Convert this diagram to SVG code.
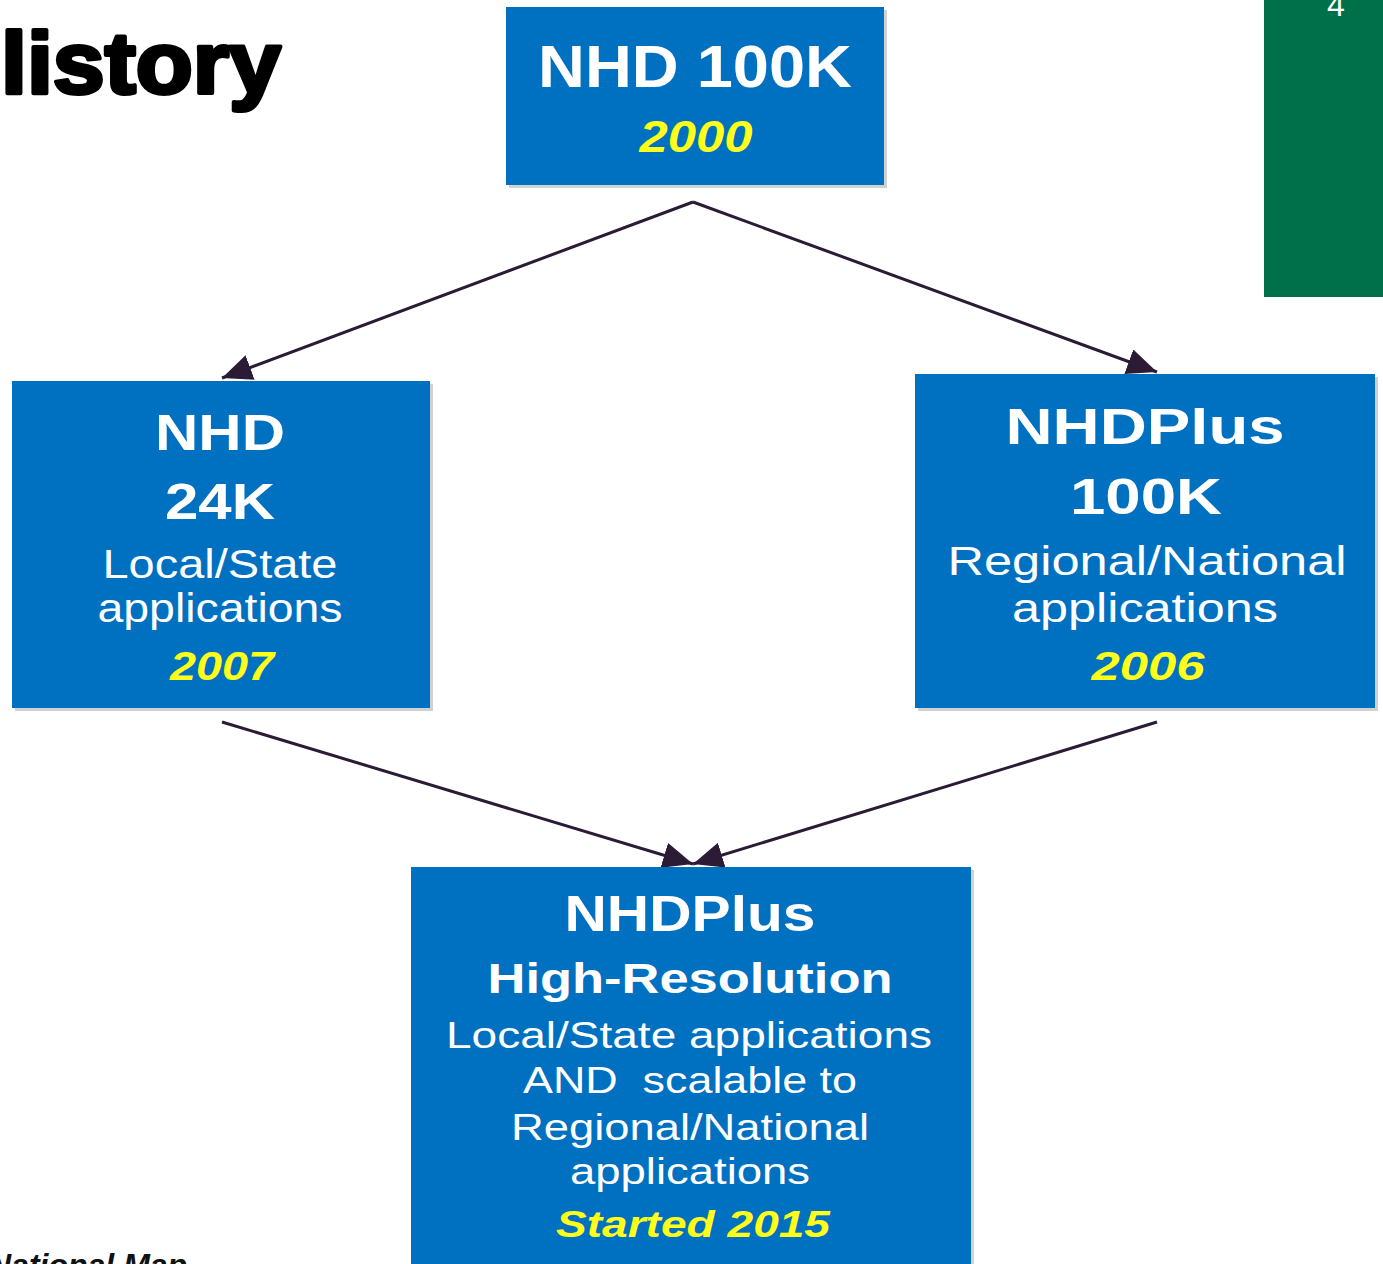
<svg xmlns="http://www.w3.org/2000/svg" width="1383" height="1264" viewBox="0 0 1383 1264">
<style>
.box{fill:#0070C0}
.sh{fill:#000;opacity:0.18}
.t{font-family:"Liberation Sans",Arial,sans-serif;fill:#fff;text-anchor:middle}
.b{font-weight:bold}
.y{font-family:"Liberation Sans",Arial,sans-serif;fill:#FFFF1A;font-weight:bold;font-style:italic;text-anchor:middle}
.c{stroke:#2B1B35;stroke-width:3;fill:none}
</style>
<defs>
<marker id="arr" viewBox="0 0 30 26" refX="30" refY="13" markerWidth="30" markerHeight="26" markerUnits="userSpaceOnUse" orient="auto">
<path d="M0,0 L30,13 L0,26 Z" fill="#2B1B35"/>
</marker>
</defs>
<rect width="1383" height="1264" fill="#fff"/>
<rect x="1264" y="0" width="119" height="297" fill="#00704A"/>
<text x="1336" y="16" font-family="Liberation Sans,Arial,sans-serif" font-size="32" fill="#fff" text-anchor="middle">4</text>
<text x="1" y="93" font-family="Liberation Sans,Arial,sans-serif" font-weight="bold" font-size="88" fill="#000" stroke="#000" stroke-width="4" stroke-linejoin="round" textLength="280" lengthAdjust="spacingAndGlyphs">listory</text>
<text x="-12" y="1276" font-family="Liberation Sans,Arial,sans-serif" font-weight="bold" font-style="italic" font-size="32" fill="#111">National Map</text>
<g id="connectors">
<line class="c" x1="693" y1="202" x2="222" y2="378" marker-end="url(#arr)"/>
<line class="c" x1="693" y1="202" x2="1157" y2="372" marker-end="url(#arr)"/>
<line class="c" x1="222" y1="722" x2="693" y2="864" marker-end="url(#arr)"/>
<line class="c" x1="1157" y1="722" x2="693" y2="864" marker-end="url(#arr)"/>
</g>
<g id="nhd100k">
<rect class="sh" x="509" y="10" width="378" height="178"/>
<rect class="box" x="506" y="7" width="378" height="178"/>
<text class="t b" x="695" y="87" font-size="60" textLength="314" lengthAdjust="spacingAndGlyphs">NHD 100K</text>
<text class="y" x="696" y="152" font-size="44" textLength="113" lengthAdjust="spacingAndGlyphs">2000</text>
</g>
<g id="nhd24k">
<rect class="sh" x="15" y="384" width="418" height="327"/>
<rect class="box" x="12" y="381" width="418" height="327"/>
<text class="t b" x="220" y="450" font-size="50" textLength="130" lengthAdjust="spacingAndGlyphs">NHD</text>
<text class="t b" x="220" y="519" font-size="50" textLength="110" lengthAdjust="spacingAndGlyphs">24K</text>
<text class="t" x="220" y="578" font-size="40" textLength="235" lengthAdjust="spacingAndGlyphs">Local/State</text>
<text class="t" x="220" y="622" font-size="40" textLength="245" lengthAdjust="spacingAndGlyphs">applications</text>
<text class="y" x="222" y="680" font-size="40" textLength="104" lengthAdjust="spacingAndGlyphs">2007</text>
</g>
<g id="nhdplus100k">
<rect class="sh" x="918" y="377" width="460" height="334"/>
<rect class="box" x="915" y="374" width="460" height="334"/>
<text class="t b" x="1145" y="444" font-size="50" textLength="279" lengthAdjust="spacingAndGlyphs">NHDPlus</text>
<text class="t b" x="1146" y="514" font-size="50" textLength="152" lengthAdjust="spacingAndGlyphs">100K</text>
<text class="t" x="1147" y="575" font-size="40" textLength="399" lengthAdjust="spacingAndGlyphs">Regional/National</text>
<text class="t" x="1145" y="622" font-size="40" textLength="266" lengthAdjust="spacingAndGlyphs">applications</text>
<text class="y" x="1148" y="680" font-size="40" textLength="113" lengthAdjust="spacingAndGlyphs">2006</text>
</g>
<g id="nhdplushr">
<rect class="sh" x="414" y="870" width="560" height="400"/>
<rect class="box" x="411" y="867" width="560" height="400"/>
<text class="t b" x="690" y="931" font-size="50" textLength="251" lengthAdjust="spacingAndGlyphs">NHDPlus</text>
<text class="t b" x="690" y="993" font-size="42" textLength="405" lengthAdjust="spacingAndGlyphs">High-Resolution</text>
<text class="t" x="689" y="1048" font-size="36" textLength="486" lengthAdjust="spacingAndGlyphs">Local/State applications</text>
<text class="t" x="690" y="1093" font-size="36" textLength="334" lengthAdjust="spacingAndGlyphs" xml:space="preserve">AND  scalable to</text>
<text class="t" x="690" y="1140" font-size="36" textLength="358" lengthAdjust="spacingAndGlyphs">Regional/National</text>
<text class="t" x="690" y="1184" font-size="36" textLength="240" lengthAdjust="spacingAndGlyphs">applications</text>
<text class="y" x="693" y="1237" font-size="36" textLength="274" lengthAdjust="spacingAndGlyphs">Started 2015</text>
</g>
</svg>
